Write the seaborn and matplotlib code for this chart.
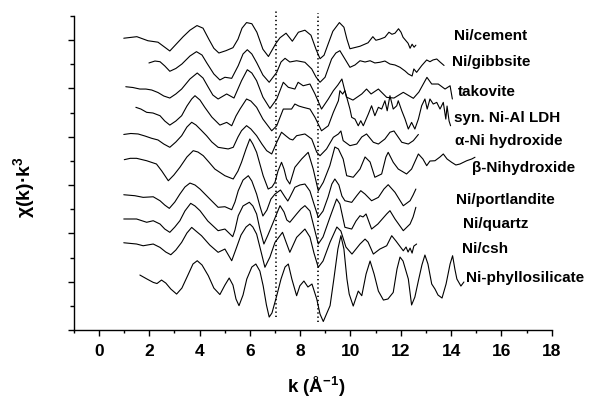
import matplotlib
matplotlib.use("Agg")
import matplotlib.pyplot as plt
import numpy as np
import pandas as pd
import seaborn as sns


# k (1/A) and chi(k)*k^3 (arbitrary units, relative to each baseline)
k_cement = [0.99, 1.51, 1.95, 2.35, 2.82, 3.35, 3.62, 3.90, 4.14, 4.37, 4.57, 4.77, 5.05, 5.33, 5.53,
            5.69, 5.87, 6.08, 6.28, 6.52, 6.74, 7.04, 7.20, 7.44, 7.69, 7.93, 8.19, 8.43, 8.63, 8.79,
            8.95, 9.11, 9.30, 9.56, 9.74, 9.86, 9.98, 10.38, 10.70, 10.89, 11.01, 11.17, 11.37, 11.53,
            11.65, 11.77, 11.91, 12.01, 12.09, 12.29, 12.37, 12.45, 12.53, 12.60]
chi_cement = [0, 1.6, -2.6, -4.1, -13.2, 1.6, 8.3, 13.1, 10.4, -1.0, -10.4, -15.3, -12.9, -9.8, -1.0,
              10.4, 16.2, 15.0, 6.2, -11.4, -18.9, -5.2, 0.5, 5.2, -3.1, 6.2, 8.3, 3.1, -11.4, -21.2,
              -17.6, -6.2, 7.2, 16.2, 11.4, -1.0, -10.9, -8.3, -4.7, 1.6, -2.1, -1.0, 1.0, 6.2,
              4.1, 5.2, 9.8, 6.2, 1.0, -5.2, -10.4, -6.2, -9.3, -7.2]

k_gibbsite = [1.99, 2.23, 2.43, 2.62, 2.82, 3.06, 3.30, 3.62, 3.88, 4.10, 4.29, 4.57, 4.81, 5.01, 5.28,
              5.54, 5.73, 5.90, 6.08, 6.28, 6.52, 6.77, 7.07, 7.24, 7.40, 7.59, 7.86, 8.19, 8.46, 8.63,
              8.79, 8.99, 9.25, 9.42, 9.58, 9.78, 9.98, 10.18, 10.38, 10.58, 10.78, 10.97, 11.17, 11.37,
              11.57, 11.77, 11.97, 12.17, 12.30, 12.45, 12.52, 12.63, 12.83, 13.03, 13.16, 13.28, 13.43,
              13.56, 13.72]
chi_gibbsite = [-1.0, 1.0, 0.3, -4.1, -9.6, -6.7, -2.1, 6.2, 10.7, 7.2, -1.0, -12.4, -18.6, -15.8, -16.9,
                -3.8, 8.3, 12.7, 8.3, -1.0, -13.5, -21.0, -10.7, 0, 3.8, 0, 1.3, -0.3, -7.2, -15.5,
                -21.0, -15.8, 3.1, 9.3, 11.7, 3.1, -5.5, -3.1, 1.3, 0, 1.3, -1.0, -0.3, 1.0,
                -2.1, -3.1, -5.5, -9.3, -12.4, -14.5, -7.2, -10.7, -3.8, 2.1, 0.3, 2.1, 3.1,
                0, -3.6]

k_takovite = [1.07, 1.35, 1.63, 1.87, 2.10, 2.35, 2.58, 2.82, 3.06, 3.29, 3.62, 3.91, 4.14, 4.35, 4.53,
              4.74, 5.08, 5.37, 5.67, 5.90, 6.08, 6.27, 6.52, 6.80, 7.07, 7.33, 7.53, 7.79, 7.92, 8.12,
              8.39, 8.59, 8.85, 9.12, 9.32, 9.50, 9.66, 9.84, 10.10, 10.45, 10.64, 10.82, 11.11, 11.44,
              11.73, 12.10, 12.50, 12.72, 13.04, 13.23, 13.49, 13.76, 13.96, 14.05]
chi_takovite = [0.3, -0.5, -2.1, -2.1, -3.1, -5.7, -9.3, -11.4, -7.2, -2.1, 8.3, 14.5, 9.3, -0.3, -8.3,
                -12.4, -7.2, -11.4, 6.5, 17.9, 14.5, 6.5, -10.4, -22.1, -12.4, 4.9, -0.3, -2.1, 4.9, 1.3,
                3.1, -7.2, -22.8, -12.4, -3.8, 2.1, 8.3, -10.4, -13.5, -7.2, -2.1, -7.2, -2.1, -10.7,
                -11.4, -5.5, -11.7, -5.2, 10.0, 3.1, 3.1, -2.1, 1.3, -12.4]

k_ldh = [1.47, 1.67, 1.90, 2.15, 2.43, 2.62, 2.82, 3.06, 3.29, 3.50, 3.69, 3.82, 4.02, 4.21, 4.49,
         4.81, 5.08, 5.28, 5.45, 5.61, 5.87, 6.04, 6.27, 6.52, 6.87, 7.07, 7.33, 7.66, 7.79, 7.95,
         8.12, 8.39, 8.59, 8.85, 9.12, 9.32, 9.52, 9.58, 9.69, 9.78, 9.98, 10.05, 10.18, 10.31, 10.41,
         10.51, 10.71, 10.84, 10.97, 11.11, 11.24, 11.37, 11.46, 11.57, 11.70, 11.84, 11.90, 12.04,
         12.17, 12.30, 12.43, 12.56, 12.70, 12.83, 12.96, 13.05, 13.16, 13.29, 13.43, 13.56, 13.69,
         13.79, 13.84, 13.92, 13.98]
chi_ldh = [1.8, 0, -3.4, -4.1, -6.9, -12.4, -16.6, -12.4, -6.9, 3.1, 10.4, 13.8, 9.3, 1.8, -8.3,
           -16.6, -13.8, -17.3, -7.2, 0, 10.4, 8.3, 1.8, -10.4, -22.5, -17.3, 0, 0, 5.2, 3.1,
           1.8, 0, -8.6, -22.5, -17.3, -3.4, 8.6, 19.0, 15.5, 19.0, 0, -8.6, -10.4, -17.3, -12.1,
           -17.3, -5.2, 3.4, -6.9, 1.8, 0, 8.6, -1.8, 13.8, 0, 3.4, 8.6, -1.8,
           -10.4, -20.7, -13.8, -20.7, -10.4, 3.4, 10.4, 0, 10.4, 5.2, 6.9, 0, 6.9,
           -10.4, 3.1, -12.4, -17.3]

k_alpha = [0.99, 1.27, 1.56, 1.83, 2.10, 2.35, 2.58, 2.82, 3.06, 3.29, 3.50, 3.69, 3.86, 4.06, 4.28,
           4.49, 4.74, 5.14, 5.34, 5.53, 5.67, 5.87, 6.04, 6.27, 6.48, 6.67, 6.87, 7.07, 7.26, 7.44,
           7.59, 7.71, 7.86, 8.19, 8.46, 8.66, 8.79, 9.05, 9.32, 9.52, 9.62, 9.71, 9.98, 10.25, 10.45,
           10.64, 10.91, 11.11, 11.37, 11.57, 11.73, 12.04, 12.30, 12.50, 12.70]
chi_alpha = [-0.5, 0.5, 0, -2.1, -4.5, -6.2, -10.4, -13.8, -8.3, -1.8, 7.2, 12.1, 9.3, 4.1, -1.8,
             -8.3, -13.8, -15.5, -13.8, -3.1, 3.4, 8.6, 5.2, -1.8, -10.4, -17.3, -20.7, -8.6, 1.8, -2.1,
             -5.2, -6.2, -1.8, 0, -5.2, -18.9, -22.5, -15.5, -3.4, 0, 3.1, -6.9, -12.1, -10.4, -3.1,
             0, -8.6, -10.4, -5.2, 1.8, 3.1, -8.6, -10.4, -6.9, -0.5]

k_beta = [1.01, 1.25, 1.50, 1.90, 2.29, 2.50, 2.76, 2.98, 3.22, 3.50, 3.75, 3.94, 4.15, 4.37, 4.61,
          5.01, 5.34, 5.53, 5.67, 5.85, 6.00, 6.12, 6.27, 6.53, 6.73, 6.88, 7.00, 7.12, 7.26, 7.36,
          7.46, 7.59, 7.79, 8.06, 8.32, 8.52, 8.63, 8.72, 8.92, 9.18, 9.38, 9.52, 9.71, 9.85, 10.11,
          10.38, 10.58, 10.78, 10.97, 11.24, 11.41, 11.50, 11.70, 11.90, 12.23, 12.43, 12.70, 12.88,
          13.03, 13.16, 13.36, 13.56, 13.69, 13.84, 14.02, 14.19, 14.35, 14.62, 14.82, 14.95]
chi_beta = [-0.7, 0.7, 0.7, -1.8, -5.2, -12.4, -22.5, -16.6, -8.6, 2.1, 8.6, 7.2, 3.4, -3.1, -10.4,
            -17.3, -20.7, -12.4, -3.4, 10.4, 20.7, 15.5, 6.9, -17.3, -31.1, -29.0, -24.1, -12.4, -3.4, -10.4,
            -20.7, -25.9, -8.6, 0, 6.9, -10.4, -22.8, -32.8, -24.1, -6.9, 12.4, 10.4, 0, -17.3, -18.9,
            -10.4, 2.1, -3.1, -18.9, -15.5, 2.1, 6.9, -3.4, -10.4, -15.5, -10.4, 5.2, 0,
            -6.9, -2.1, -1.8, 2.1, 5.2, 0, -3.4, -6.2, -5.2, -1.8, 0, 1.8]

k_portlandite = [0.99, 1.43, 1.76, 2.16, 2.43, 2.62, 2.80, 3.02, 3.22, 3.42, 3.62, 3.82, 4.02, 4.41, 4.74,
                 5.01, 5.28, 5.41, 5.54, 5.73, 5.94, 6.08, 6.27, 6.40, 6.52, 6.68, 6.84, 7.00, 7.22, 7.40,
                 7.51, 7.59, 7.79, 7.99, 8.19, 8.39, 8.55, 8.72, 8.91, 9.11, 9.26, 9.38, 9.54, 9.66, 9.78,
                 10.05, 10.25, 10.41, 10.58, 10.84, 11.11, 11.33, 11.50, 11.77, 12.10, 12.37, 12.49, 12.60]
chi_portlandite = [0.3, -0.7, -2.4, -1.8, -5.9, -10.4, -13.8, -7.2, 1.0, 8.3, 12.4, 10.4, 6.2, -4.1, -12.7,
                   -12.1, -15.2, -7.2, 4.5, 15.5, 20.0, 14.5, 1.0, -11.4, -21.7, -15.5, -4.1, 1.0, 5.2, -2.1,
                   -6.2, -2.4, 8.0, 10.4, 11.4, 4.1, -9.3, -23.1, -16.6, -2.1, 11.4, 16.6, 10.4, -1.0, -5.9,
                   -7.6, -0.7, 4.5, 1.0, -5.9, -2.4, 6.2, 10.7, 2.8, -11.1, -5.9, 0, 6.2]

k_quartz = [0.99, 1.50, 1.90, 2.16, 2.43, 2.62, 2.82, 3.02, 3.22, 3.42, 3.65, 3.82, 4.02, 4.33, 4.74,
            5.01, 5.32, 5.41, 5.54, 5.73, 5.98, 6.12, 6.27, 6.40, 6.56, 6.72, 6.93, 7.20, 7.36, 7.47,
            7.59, 7.86, 8.03, 8.19, 8.39, 8.55, 8.72, 8.91, 9.19, 9.45, 9.58, 9.78, 10.05, 10.22, 10.38,
            10.50, 10.62, 10.84, 11.09, 11.44, 11.57, 11.77, 12.10, 12.37, 12.49, 12.60]
chi_quartz = [0, 0, -3.4, -1.8, -5.2, -10.4, -13.8, -8.3, -1.8, 8.3, 16.2, 13.5, 8.6, -2.1, -12.1,
              -10.4, -18.3, -11.4, 3.4, 13.5, 17.3, 13.5, 5.2, -10.4, -25.9, -16.6, -3.4, 13.8, 7.2, -1.0,
              -3.4, 5.2, 10.4, 13.8, 8.3, -8.3, -25.9, -18.6, 2.1, 20.7, 15.5, -8.6, -10.4, -2.1, 3.4,
              2.1, 5.2, -10.4, -5.2, 5.2, 8.6, 0, -12.1, -5.2, 2.1, 12.1]

k_csh = [0.99, 1.50, 1.76, 2.16, 2.43, 2.66, 2.86, 3.06, 3.29, 3.50, 3.69, 3.86, 4.08, 4.41, 4.74,
         5.01, 5.28, 5.45, 5.65, 5.85, 6.00, 6.12, 6.27, 6.44, 6.60, 6.80, 7.00, 7.30, 7.44, 7.59,
         7.86, 8.19, 8.39, 8.55, 8.72, 8.91, 9.19, 9.46, 9.62, 9.82, 10.06, 10.22, 10.38, 10.58, 10.70,
         10.91, 11.17, 11.44, 11.64, 11.81, 12.10, 12.21, 12.29, 12.37, 12.45, 12.52, 12.63]
chi_csh = [0.3, -1.0, -2.8, -1.0, -4.5, -9.3, -12.1, -7.2, 0.7, 10.4, 16.2, 12.4, 7.6, -2.1, -9.6,
           -6.2, -18.3, -6.2, 8.3, 16.6, 19.7, 16.6, 9.3, -8.3, -25.1, -14.5, 0.7, 11.1, 1.0, -9.6,
           5.9, 14.5, 6.2, -10.4, -25.1, -18.6, 1.0, 16.6, 12.4, -4.1, -11.4, -6.2, -1.0, 4.1, 1.0,
           -11.4, -6.2, -2.8, 7.6, 2.1, -8.0, -4.1, -9.3, -5.2, -10.4, -3.1, -1.0]

k_phyllo = [1.63, 1.91, 2.16, 2.31, 2.49, 2.66, 2.86, 3.09, 3.30, 3.54, 3.74, 3.91, 4.10, 4.35, 4.57,
            4.81, 5.01, 5.18, 5.33, 5.45, 5.57, 5.73, 5.88, 6.08, 6.24, 6.40, 6.53, 6.66, 6.77, 6.88,
            7.07, 7.24, 7.40, 7.53, 7.67, 7.86, 7.99, 8.15, 8.31, 8.47, 8.66, 8.79, 8.92, 9.03, 9.19,
            9.34, 9.50, 9.62, 9.74, 9.86, 9.95, 10.11, 10.31, 10.45, 10.62, 10.78, 10.94, 11.11, 11.31,
            11.49, 11.70, 11.85, 11.97, 12.09, 12.30, 12.43, 12.56, 12.70, 12.84, 12.96, 13.08, 13.23,
            13.36, 13.48, 13.64, 13.80, 13.96, 14.06, 14.15, 14.23, 14.39, 14.51]
chi_phyllo = [0, -4.1, -7.6, -8.8, -5.2, -8.3, -14.5, -19.7, -13.5, 0, 11.4, 14.8, 10.4, -0.7, -13.5,
              -20.2, -10.4, -3.1, -10.4, -24.8, -31.7, -20.7, -4.1, 8.3, 11.4, 4.1, -11.1, -31.0, -43.5, -39.3,
              -21.4, -4.1, 8.3, 11.4, -4.1, -21.4, -11.1, -6.2, -12.4, -9.3, -24.8, -40.4, -48.1, -41.4, -31.7,
              -4.1, 26.9, 40.7, 26.9, -4.1, -19.7, -32.1, -16.6, -21.4, 1.0, 14.5, 1.0, -16.6, -25.9,
              -24.8, -18.0, 6.2, 18.6, 14.5, -4.1, -31.0, -22.8, -5.9, 10.4, 20.7, 11.4, -9.3,
              -14.5, -20.7, -23.8, -9.3, 11.4, 20.0, 6.2, -4.1, -11.4, -7.2]

samples = ["Ni/cement", "Ni/gibbsite", "takovite", "syn. Ni-Al LDH", "\u03b1-Ni hydroxide",
           "\u03b2-Nihydroxide", "Ni/portlandite", "Ni/quartz", "Ni/csh", "Ni-phyllosilicate"]
offsets = [302.0, 277.4, 251.5, 228.7, 202.9, 177.0, 139.7, 114.9, 90.0, 56.9]
k_lists = [k_cement, k_gibbsite, k_takovite, k_ldh, k_alpha, k_beta, k_portlandite, k_quartz, k_csh, k_phyllo]
chi_lists = [chi_cement, chi_gibbsite, chi_takovite, chi_ldh, chi_alpha, chi_beta,
             chi_portlandite, chi_quartz, chi_csh, chi_phyllo]

# dotted reference lines (k) and their vertical extent
guide_k = [7.04, 8.70]
guide_lo = [13.5, 8.3]
guide_hi = [332.0, 328.5]

# label anchors (k, y)
label_k = [14.12, 14.04, 14.27, 14.12, 14.16, 14.83, 14.19, 14.47, 14.43, 14.59]
label_y = [305.6, 278.4, 247.4, 220.5, 196.7, 168.7, 135.6, 110.7, 84.9, 54.9]


rows = []
for name, off, ks, chis in zip(samples, offsets, k_lists, chi_lists):
    for k, c in zip(ks, chis):
        rows.append({"sample": name, "k": k, "signal": c + off})
df = pd.DataFrame(rows)

sns.set_theme(style="ticks")
plt.rcParams["font.family"] = ["Liberation Sans", "DejaVu Sans"]
plt.rcParams["font.weight"] = "bold"
plt.rcParams["mathtext.fontset"] = "custom"
plt.rcParams["mathtext.rm"] = "Liberation Sans:bold"
plt.rcParams["mathtext.bf"] = "Liberation Sans:bold"
for key in ["text.color", "axes.labelcolor", "xtick.color", "ytick.color", "axes.edgecolor"]:
    plt.rcParams[key] = "black"

fig = plt.figure(figsize=(5.93, 4.02), dpi=100)
ax = fig.add_axes([0.1243, 0.1766, 0.8061, 0.7811])

sns.lineplot(data=df, x="k", y="signal", units="sample", estimator=None, sort=False,
             color="black", linewidth=0.8, legend=False, ax=ax)

ax.vlines(guide_k, guide_lo, guide_hi, colors="black", linewidth=1.2,
          linestyles=[(0, (0.8, 1.7))], clip_on=False)

for name, lk, ly in zip(samples, label_k, label_y):
    ax.text(lk, ly, name, fontsize=11, fontweight="bold", ha="left", va="center", clip_on=False)

ax.set_xlim(-1, 18)
ax.set_ylim(0, 325)
ax.set_xticks(np.arange(0, 19, 2))
ax.set_xticks(np.arange(-1, 18, 2), minor=True)
ax.set_yticks(np.arange(0, 326, 50))
ax.set_yticks(np.arange(25, 326, 50), minor=True)
ax.set_yticklabels([])
ax.tick_params(axis="x", which="major", direction="out", length=4, width=1, labelsize=12.5, pad=5)
ax.tick_params(axis="x", which="minor", direction="out", length=2.5, width=1)
ax.tick_params(axis="y", which="major", direction="out", length=4.5, width=1)
ax.tick_params(axis="y", which="minor", direction="out", length=3, width=1)
for lab in ax.get_xticklabels():
    lab.set_fontweight("bold")

sns.despine(ax=ax)
ax.spines["left"].set_linewidth(1.0)
ax.spines["bottom"].set_linewidth(1.0)

ax.set_xlabel(r"k (Å$^{-1}$)", fontsize=13.5, fontweight="bold")
ax.set_ylabel(r"χ(k)·k$^{3}$", fontsize=14, fontweight="bold")
ax.xaxis.set_label_coords(0.507, -0.138)
ax.yaxis.set_label_coords(-0.075, 0.459)

fig.savefig("out.png", dpi=100)
